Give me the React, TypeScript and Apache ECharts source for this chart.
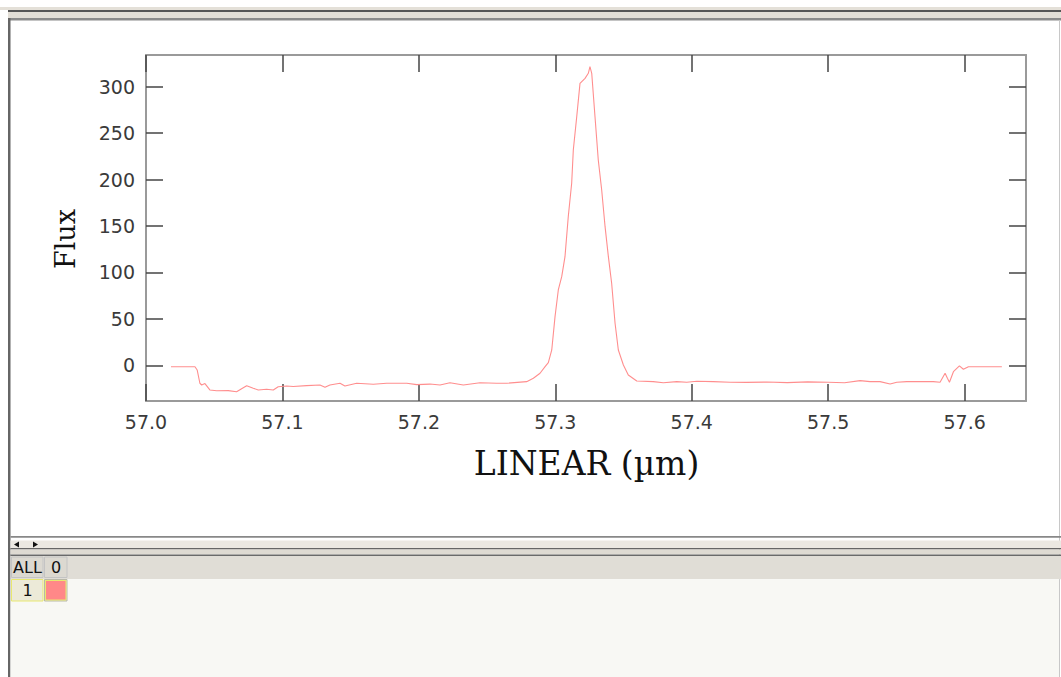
import React, { useEffect, useRef } from "react";
import * as echarts from "echarts";

// wavelength (µm) and flux readings
const wavelength = [
  57.0183, 57.0359, 57.0375, 57.0395, 57.0408, 57.0432, 57.0468, 57.0518, 57.0603, 57.0664,
  57.0713, 57.0738, 57.0786, 57.0823, 57.0884, 57.0933, 57.0969, 57.1031, 57.1079, 57.1177,
  57.1275, 57.1312, 57.1348, 57.1422, 57.1458, 57.1544, 57.1666, 57.1764, 57.1911, 57.1984,
  57.2081, 57.2155, 57.2228, 57.2326, 57.2448, 57.257, 57.2644, 57.279, 57.2839, 57.2888,
  57.2925, 57.2949, 57.2974, 57.2998, 57.3022, 57.3047, 57.3071, 57.3095, 57.312, 57.3132,
  57.3157, 57.3181, 57.3218, 57.3242, 57.3254, 57.3267, 57.3291, 57.3315, 57.334, 57.3365,
  57.3389, 57.3413, 57.3438, 57.3462, 57.3499, 57.3535, 57.3597, 57.3718, 57.3792, 57.389,
  57.3963, 57.4037, 57.4158, 57.4281, 57.44, 57.455, 57.47, 57.485, 57.5, 57.512,
  57.5234, 57.5307, 57.538, 57.5454, 57.5503, 57.5576, 57.5771, 57.582, 57.5857, 57.5874,
  57.5889, 57.5918, 57.5962, 57.5991, 57.6028, 57.6273,
];
const flux = [
  -1.3, -1.3, -4.8, -19.1, -21.0, -19.5, -26.3, -27.1, -27.0, -28.2,
  -23.9, -21.7, -24.5, -26.3, -25.6, -26.3, -22.8, -22.0, -22.6, -21.7,
  -21.0, -23.4, -21.0, -19.1, -22.0, -19.1, -20.2, -19.1, -19.1, -20.6,
  -20.0, -21.0, -18.5, -21.0, -18.5, -19.1, -19.1, -17.4, -13.8, -8.4,
  -1.3, 3.0, 16.7, 52.5, 81.2, 95.5, 117, 160, 196, 231.7,
  267.5, 303.4, 308.8, 314.2, 321.3, 314.2, 267.5, 221, 188.7, 149,
  117, 88.4, 45.4, 16.7, 0.5, -10.2, -16.7, -17.4, -18.5, -17.4,
  -18.0, -17.0, -17.4, -18.0, -18.2, -17.8, -18.4, -17.6, -18.0, -18.5,
  -16.3, -17.4, -17.4, -19.9, -18.0, -17.4, -17.4, -18.0, -8.4, -13.8,
  -18.0, -6.7, -0.5, -4.1, -1.3, -1.3,
];

const xTicks = [57.0, 57.1, 57.2, 57.3, 57.4, 57.5, 57.6];
const yTicks = [0, 50, 100, 150, 200, 250, 300];
const xRange = [57.0, 57.645];
const yRange = [-38.2, 333.9];

const xTitle = "LINEAR (µm)";
const yTitle = "Flux";
const headerLabels = ["ALL", "0"];
const rowLabel = "1";

export default function App() {
  const ref = useRef<HTMLDivElement>(null);

  useEffect(() => {
    if (!ref.current) return;
    const chart = echarts.init(ref.current, null, { renderer: "svg" });

    const frameColor = "#9a9a9a";
    const tickColor = "#444";
    const labelFont = { fontFamily: "DejaVu Sans", fontSize: 19, color: "#3a3a3a" };

    const mkX = (position: string, main: boolean) => ({
      type: "value",
      position,
      min: xRange[0],
      max: xRange[1],
      axisLine: { show: true, onZero: false, lineStyle: { color: frameColor, width: 2 } },
      axisTick: {
        show: true,
        inside: true,
        length: 17,
        customValues: xTicks,
        lineStyle: { color: tickColor, width: 1.5 },
      },
      axisLabel: {
        show: main,
        customValues: xTicks,
        formatter: (v: number) => v.toFixed(1),
        margin: 11,
        ...labelFont,
      },
      splitLine: { show: false },
    });
    const mkY = (position: string, main: boolean) => ({
      type: "value",
      position,
      min: yRange[0],
      max: yRange[1],
      axisLine: { show: true, onZero: false, lineStyle: { color: frameColor, width: 2 } },
      axisTick: {
        show: true,
        inside: true,
        length: 17,
        customValues: yTicks,
        lineStyle: { color: tickColor, width: 1.5 },
      },
      axisLabel: {
        show: main,
        customValues: yTicks,
        formatter: (v: number) => String(v),
        margin: 11,
        ...labelFont,
      },
      splitLine: { show: false },
    });

    const graphics: any[] = [
      // top chrome band
      { type: "rect", shape: { x: 0, y: 7, width: 1061, height: 3 }, style: { fill: "#e4e0d8" } },
      { type: "rect", shape: { x: 8, y: 10, width: 1053, height: 2 }, style: { fill: "#555" } },
      { type: "rect", shape: { x: 8, y: 12, width: 1053, height: 6 }, style: { fill: "#e2ded6" } },
      { type: "rect", shape: { x: 8, y: 18, width: 1053, height: 2.5 }, style: { fill: "#8a8a8a" } },
      // left border
      { type: "rect", shape: { x: 8, y: 18, width: 2.5, height: 659 }, style: { fill: "#666" } },
      // right border
      { type: "rect", shape: { x: 1059, y: 20, width: 1, height: 657 }, style: { fill: "#c8c8c8" } },
      // bottom splitter
      { type: "rect", shape: { x: 10.5, y: 536, width: 1051, height: 1.8 }, style: { fill: "#888" } },
      { type: "rect", shape: { x: 10.5, y: 540.5, width: 1051, height: 7.5 }, style: { fill: "#ebe8e2" } },
      { type: "polygon", shape: { points: [[14, 544.5], [19, 541.5], [19, 547.5]] }, style: { fill: "#111" } },
      { type: "polygon", shape: { points: [[38, 544.5], [33, 541.5], [33, 547.5]] }, style: { fill: "#111" } },
      { type: "rect", shape: { x: 10.5, y: 548, width: 1051, height: 1.4 }, style: { fill: "#666" } },
      { type: "rect", shape: { x: 10.5, y: 549.4, width: 1051, height: 5 }, style: { fill: "#dedad2" } },
      { type: "rect", shape: { x: 10.5, y: 554.4, width: 1051, height: 1.6 }, style: { fill: "#6a6a6a" } },
      { type: "rect", shape: { x: 10.5, y: 556, width: 1051, height: 23.3 }, style: { fill: "#e0ddd6" } },
      { type: "rect", shape: { x: 10.5, y: 579.3, width: 1048.5, height: 98 }, style: { fill: "#f8f8f4" } },
      // header cells
      { type: "rect", shape: { x: 11.5, y: 557, width: 31.5, height: 20.5 }, style: { fill: "#dcd9d1", stroke: "#c4c4c4", lineWidth: 1 } },
      { type: "rect", shape: { x: 44.5, y: 557, width: 22.5, height: 20.5 }, style: { fill: "#dcd9d1", stroke: "#c4c4c4", lineWidth: 1 } },
      { type: "text", x: 27.5, y: 567.5, style: { text: headerLabels[0], font: "16px 'DejaVu Sans'", fill: "#111", align: "center", verticalAlign: "middle" } },
      { type: "text", x: 56, y: 567.5, style: { text: headerLabels[1], font: "16px 'DejaVu Sans'", fill: "#111", align: "center", verticalAlign: "middle" } },
      // row cells
      { type: "rect", shape: { x: 11.5, y: 579.5, width: 31.5, height: 21.5 }, style: { fill: "#ecead8", stroke: "#e8e870", lineWidth: 1 } },
      { type: "text", x: 27.5, y: 590.5, style: { text: rowLabel, font: "16px 'DejaVu Sans'", fill: "#111", align: "center", verticalAlign: "middle" } },
      { type: "rect", shape: { x: 44.5, y: 579.5, width: 22.5, height: 21.5 }, style: { fill: "#e0ddd0", stroke: "#b8b8a8", lineWidth: 1 } },
      { type: "rect", shape: { x: 45.5, y: 580.5, width: 20.5, height: 19.5 }, style: { fill: "#ff8888", stroke: "#e8e870", lineWidth: 1 } },
      // axis titles
      {
        type: "text",
        x: 586.5,
        y: 463,
        style: { text: xTitle, font: "33px 'DejaVu Serif'", fill: "#111", align: "center", verticalAlign: "middle" },
      },
      {
        type: "text",
        x: 65,
        y: 239,
        rotation: Math.PI / 2,
        style: { text: yTitle, font: "27px 'DejaVu Serif'", fill: "#111", align: "center", verticalAlign: "middle" },
      },
    ];

    chart.setOption({
      animation: false,
      backgroundColor: "#ffffff",
      grid: { left: 146, top: 55, right: 35, bottom: 276, containLabel: false },
      xAxis: [mkX("bottom", true), mkX("top", false)],
      yAxis: [mkY("left", true), mkY("right", false)],
      graphic: graphics,
      series: [
        {
          type: "line",
          xAxisIndex: 0,
          yAxisIndex: 0,
          data: wavelength.map((w, i) => [w, flux[i]]),
          showSymbol: false,
          symbol: "none",
          lineStyle: { color: "#ff8e8e", width: 1.1 },
          z: 3,
        },
      ],
    });

    return () => chart.dispose();
  }, []);

  return (
    <div
      ref={ref}
      style={{ position: "fixed", left: 0, top: 0, width: 1061, height: 677, background: "#fff" }}
    />
  );
}
